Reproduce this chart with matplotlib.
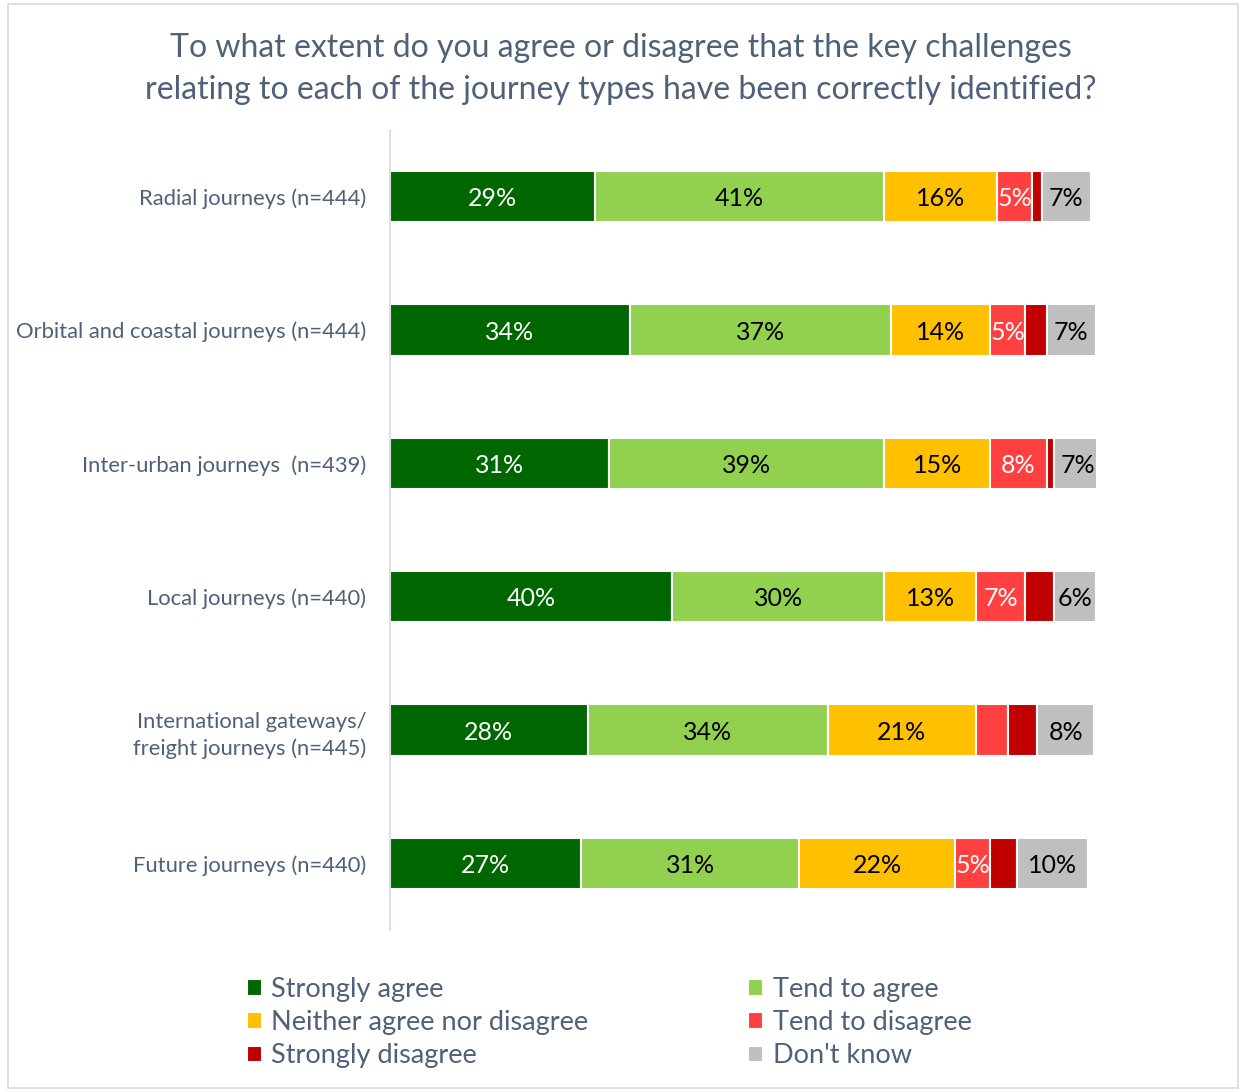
import numpy as np
import matplotlib.pyplot as plt
from matplotlib.patches import Rectangle

plt.rcParams['font.family'] = ['Lato', 'DejaVu Sans']

# Survey responses, % of respondents per journey type
categories = [
    "Radial journeys (n=444)",
    "Orbital and coastal journeys (n=444)",
    "Inter-urban journeys  (n=439)",
    "Local journeys (n=440)",
    "International gateways/\nfreight journeys (n=445)",
    "Future journeys (n=440)",
]
strongly_agree = [29, 34, 31, 40, 28, 27]
tend_agree = [41, 37, 39, 30, 34, 31]
neither = [16, 14, 15, 13, 21, 22]
tend_disagree = [5, 5, 8, 7, 4.5, 5]
strongly_disagree = [1.3, 3, 1, 4, 4.2, 3.8]
dont_know = [7, 7, 7, 6, 8, 10]

series_names = ["Strongly agree", "Tend to agree", "Neither agree nor disagree",
                "Tend to disagree", "Strongly disagree", "Don't know"]
series_vals = [strongly_agree, tend_agree, neither, tend_disagree, strongly_disagree, dont_know]
colors = ["#006600", "#92D050", "#FFC000", "#FF4040", "#C00000", "#BFBFBF"]
text_colors = ["white", "black", "black", "white", "white", "black"]

text_grey = "#4F6079"

fig = plt.figure(figsize=(12.42, 10.92), dpi=100)
fig.patches.append(Rectangle((8 / 1242, 4 / 1092), 1230 / 1242, 1084 / 1092,
                             transform=fig.transFigure, fill=False,
                             edgecolor="#D9D9D9", linewidth=1.2))

ax = fig.add_axes([390 / 1242, 1 - 930 / 1092, 706 / 1242, 800 / 1092])

y = np.arange(len(categories))
left = np.zeros(len(categories))
for name, vals, col, tcol in zip(series_names, series_vals, colors, text_colors):
    vals = np.array(vals, dtype=float)
    ax.barh(y, vals, left=left, height=0.385, color=col, edgecolor="white",
            linewidth=1.5, label=name)
    for yi, (l, v) in enumerate(zip(left, vals)):
        if v >= 5:
            ax.text(l + v / 2, yi, f"{v:.0f}%", ha="center", va="center_baseline",
                    fontsize=18, color=tcol)
    left += vals

ax.set_xlim(0, 100)
ax.set_ylim(len(categories) - 0.5, -0.5)
ax.set_yticks(y)
ax.set_yticklabels(categories, fontsize=15.8, color=text_grey, linespacing=1.4)
ax.tick_params(axis="y", length=0, pad=17)
ax.set_xticks([])
for s in ["top", "right", "bottom"]:
    ax.spines[s].set_visible(False)
ax.spines["left"].set_color("#D6DCE4")
ax.spines["left"].set_linewidth(1.3)

fig.text(0.5, 1 - 69 / 1092,
         "To what extent do you agree or disagree that the key challenges\n"
         "relating to each of the journey types have been correctly identified?",
         ha="center", va="center", fontsize=23, color=text_grey, linespacing=1.5)

# legend filled row by row: agree | tend agree, neither | tend disagree, ...
handles, labels = ax.get_legend_handles_labels()
order = [0, 2, 4, 1, 3, 5]
fig.legend([handles[i] for i in order], [labels[i] for i in order], ncol=2,
           loc="upper left", bbox_to_anchor=(247 / 1242, 1 - 977 / 1092), frameon=False,
           fontsize=19.5, labelcolor=text_grey, handlelength=0.55, handleheight=0.55,
           handletextpad=0.35, columnspacing=5.9, labelspacing=0.3,
           borderpad=0, borderaxespad=0)

fig.savefig("out.png", dpi=100)
